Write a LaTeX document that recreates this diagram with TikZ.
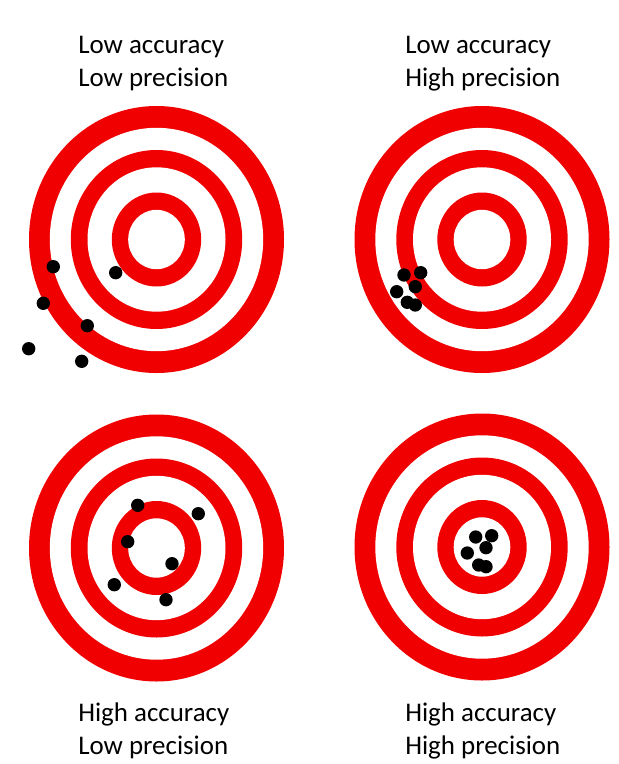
\documentclass[tikz,border=0pt]{standalone}
\usepackage{fontspec}
\setmainfont{Carlito}
\definecolor{ringred}{RGB}{240,0,0}
\begin{document}
\begin{tikzpicture}[
                x=0.75pt,
                y=-0.75pt,
                caption/.style={
                    anchor=base west,
                    inner sep=0pt,
                    font=\fontsize{20.2}{24}\selectfont
                },
                shot/.style={
                    circle,
                    fill=black,
                    minimum size=10pt,
                    inner sep=0pt
                }
            ]

                \useasboundingbox (0,0) rectangle (618,764);

                % the four targets
                \foreach \cx/\cy in {156.5/239.5, 482/239.5, 156.5/548, 482/547}
                    \foreach \rx/\ry/\col in {127.5/133.5/ringred, 106.7/111.7/white,
                                              85.7/89.5/ringred, 69/72.2/white,
                                              44.7/47/ringred, 28.3/29.7/white}
                        \fill[\col] (\cx,\cy) ellipse [x radius=\rx, y radius=\ry];

                % captions
                \node[caption] (ll-acc) at (78,53.3) {Low accuracy};
                \node[caption] (ll-prec) at (78,86.7) {Low precision};
                \node[caption] (lh-acc) at (405,53.3) {Low accuracy};
                \node[caption] (lh-prec) at (405,86.7) {High precision};
                \node[caption] (hl-acc) at (78,721) {High accuracy};
                \node[caption] (hl-prec) at (78,754.3) {Low precision};
                \node[caption] (hh-acc) at (405,721) {High accuracy};
                \node[caption] (hh-prec) at (405,754.3) {High precision};

                % shots
                \node[shot] (ll1) at (53.3,266.7) {};
                \node[shot] (ll2) at (115.7,272.7) {};
                \node[shot] (ll3) at (43.3,303.3) {};
                \node[shot] (ll4) at (87.3,325.7) {};
                \node[shot] (ll5) at (28.7,348.7) {};
                \node[shot] (ll6) at (81.7,361.3) {};

                \node[shot] (lh1) at (404,275) {};
                \node[shot] (lh2) at (420.7,272.7) {};
                \node[shot] (lh3) at (415.3,286.7) {};
                \node[shot] (lh4) at (396.7,291.7) {};
                \node[shot] (lh5) at (407.3,302.3) {};
                \node[shot] (lh6) at (415.3,305) {};

                \node[shot] (hl1) at (137.7,505.3) {};
                \node[shot] (hl2) at (198.3,513.7) {};
                \node[shot] (hl3) at (127.7,541.7) {};
                \node[shot] (hl4) at (172,563.7) {};
                \node[shot] (hl5) at (114.3,584.7) {};
                \node[shot] (hl6) at (166,599.7) {};

                \node[shot] (hh1) at (475.7,537) {};
                \node[shot] (hh2) at (491.7,535.7) {};
                \node[shot] (hh3) at (486,547.7) {};
                \node[shot] (hh4) at (467.3,553) {};
                \node[shot] (hh5) at (478.7,565) {};
                \node[shot] (hh6) at (486,566.7) {};

            \end{tikzpicture}
\end{document}
